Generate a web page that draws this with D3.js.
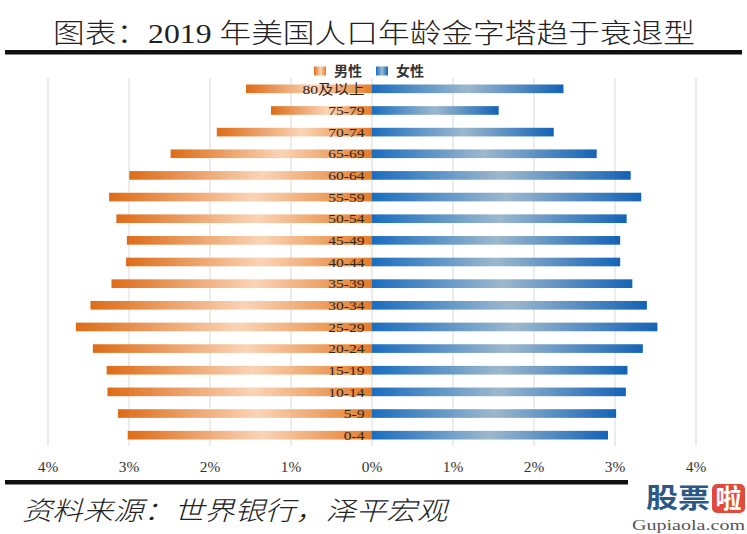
<!DOCTYPE html>
<html>
<head>
<meta charset="utf-8">
<script src="https://cdn.jsdelivr.net/npm/d3@7"></script>
<style>
  html, body { margin: 0; padding: 0; background: #fff; }
  svg { display: block; }
</style>
</head>
<body>
<div id="chart"></div>
<script>
// 年龄组（上から下）
var ages = ["80及以上", "75-79", "70-74", "65-69", "60-64", "55-59", "50-54", "45-49", "40-44",
            "35-39", "30-34", "25-29", "20-24", "15-19", "10-14", "5-9", "0-4"];
// 男性 / 女性 人口占比 (%)
var male   = [1.55, 1.24, 1.91, 2.48, 2.99, 3.24, 3.15, 3.02, 3.03, 3.21, 3.47, 3.65, 3.44, 3.27, 3.26, 3.13, 3.01];
var female = [2.37, 1.57, 2.25, 2.78, 3.20, 3.33, 3.15, 3.07, 3.07, 3.22, 3.40, 3.53, 3.35, 3.16, 3.14, 3.02, 2.92];
// x 轴刻度
var ticks = [-4, -3, -2, -1, 0, 1, 2, 3, 4];
var seriesNames = ["男性", "女性"];

var W = 747, H = 534;
var serif = "'Liberation Serif', 'Noto Sans CJK SC', serif";
var cjk = "'Noto Sans CJK SC', sans-serif";

var svg = d3.select("#chart").append("svg").attr("width", W).attr("height", H);

// グラデーション
var defs = svg.append("defs");
function grad(id, stops) {
  var g = defs.append("linearGradient").attr("id", id)
    .attr("x1", "0%").attr("y1", "0%").attr("x2", "100%").attr("y2", "0%");
  stops.forEach(function(s) {
    g.append("stop").attr("offset", s[0]).attr("stop-color", s[1]);
  });
}
grad("gMale", [["0%", "#dd6c18"], ["55%", "#fad4b6"], ["100%", "#e47d2b"]]);
grad("gFemale", [["0%", "#1a6dbf"], ["50%", "#9cb8cd"], ["100%", "#1463b6"]]);

var x = d3.scaleLinear().domain([-4, 4]).range([47.5, 695.5]);
var y = d3.scaleBand().domain(ages).range([78, 446]).paddingInner(0.6).paddingOuter(0.3);

// title
svg.append("text")
  .attr("x", 53).attr("y", 43)
  .attr("textLength", 642).attr("lengthAdjust", "spacingAndGlyphs")
  .style("font-family", serif).style("font-size", "27px").style("font-weight", "300").attr("fill", "#222")
  .text("图表：2019 年美国人口年龄金字塔趋于衰退型");

svg.append("rect").attr("x", 5).attr("y", 50).attr("width", 737).attr("height", 4.5).attr("fill", "#111");

// grid lines
svg.append("g")
  .attr("transform", "translate(0,446)")
  .call(d3.axisBottom(x).tickValues(ticks).tickSize(-368).tickFormat(""))
  .call(function(g) {
    g.select(".domain").remove();
    g.selectAll("line").attr("stroke", "#d9d9d9");
  });

// bars
svg.append("g").selectAll("rect").data(ages).enter().append("rect")
  .attr("x", function(d, i) { return x(-male[i]); })
  .attr("y", function(d) { return y(d); })
  .attr("width", function(d, i) { return x(0) - x(-male[i]); })
  .attr("height", y.bandwidth())
  .attr("fill", "url(#gMale)");

svg.append("g").selectAll("rect").data(ages).enter().append("rect")
  .attr("x", x(0))
  .attr("y", function(d) { return y(d); })
  .attr("width", function(d, i) { return x(female[i]) - x(0); })
  .attr("height", y.bandwidth())
  .attr("fill", "url(#gFemale)");

// age labels
svg.append("g").selectAll("g").data(ages).enter().append("g")
  .attr("transform", function(d) { return "translate(" + (x(0) - 7) + "," + (y(d) + y.bandwidth() / 2) + ") scale(1.15,1)"; })
  .append("text")
  .attr("text-anchor", "end").attr("dy", "0.35em")
  .style("font-family", serif).style("font-size", "13.5px").attr("fill", "#33241a")
  .text(function(d) { return d; });

// x axis labels
svg.append("g")
  .attr("transform", "translate(0,446)")
  .call(d3.axisBottom(x).tickValues(ticks).tickSize(0).tickPadding(16)
    .tickFormat(function(d) { return Math.abs(d) + "%"; }))
  .call(function(g) {
    g.select(".domain").remove();
    g.selectAll("text").style("font-family", serif).style("font-size", "14px")
      .attr("fill", "#333").attr("transform", "scale(1.1,1)");
  });

// legend
var legend = svg.append("g").attr("transform", "translate(314,71)");
var lx = [0, 62];
seriesNames.forEach(function(name, i) {
  var g = legend.append("g").attr("transform", "translate(" + lx[i] + ",0)");
  g.append("rect").attr("x", 0).attr("y", -4.5).attr("width", 12).attr("height", 9)
    .attr("fill", i === 0 ? "url(#gMale)" : "url(#gFemale)");
  g.append("text").attr("x", 20).attr("dy", "0.36em")
    .style("font-family", cjk).style("font-size", "14px").style("font-weight", "bold")
    .attr("fill", "#333").text(name);
});

// bottom line + source
svg.append("rect").attr("x", 5).attr("y", 480).attr("width", 623).attr("height", 4.5).attr("fill", "#111");

svg.append("text")
  .attr("x", 22).attr("y", 520)
  .attr("textLength", 425).attr("lengthAdjust", "spacingAndGlyphs")
  .style("font-family", cjk).style("font-size", "26px").style("font-style", "italic")
  .style("font-weight", "300").attr("fill", "#222")
  .text("资料来源：世界银行，泽平宏观");

// watermark
var wm = svg.append("g").attr("transform", "translate(646,484)");
wm.append("text").attr("x", 0).attr("y", 24)
  .style("font-family", cjk).style("font-size", "27px").style("font-weight", "bold")
  .attr("fill", "#2c5886").attr("textLength", 64).attr("lengthAdjust", "spacingAndGlyphs")
  .text("股票");
wm.append("rect").attr("x", 66).attr("y", 0).attr("width", 33).attr("height", 29).attr("rx", 5).attr("fill", "#e24a3b");
wm.append("text").attr("x", 82.5).attr("y", 24).attr("text-anchor", "middle")
  .style("font-family", cjk).style("font-size", "26px").style("font-weight", "bold")
  .attr("fill", "#fff").text("啦");
wm.append("text").attr("x", 99).attr("y", 46).attr("text-anchor", "end")
  .attr("textLength", 113).attr("lengthAdjust", "spacingAndGlyphs")
  .style("font-family", serif).style("font-size", "14px").attr("fill", "#555")
  .text("Gupiaola.com");
</script>
</body>
</html>
